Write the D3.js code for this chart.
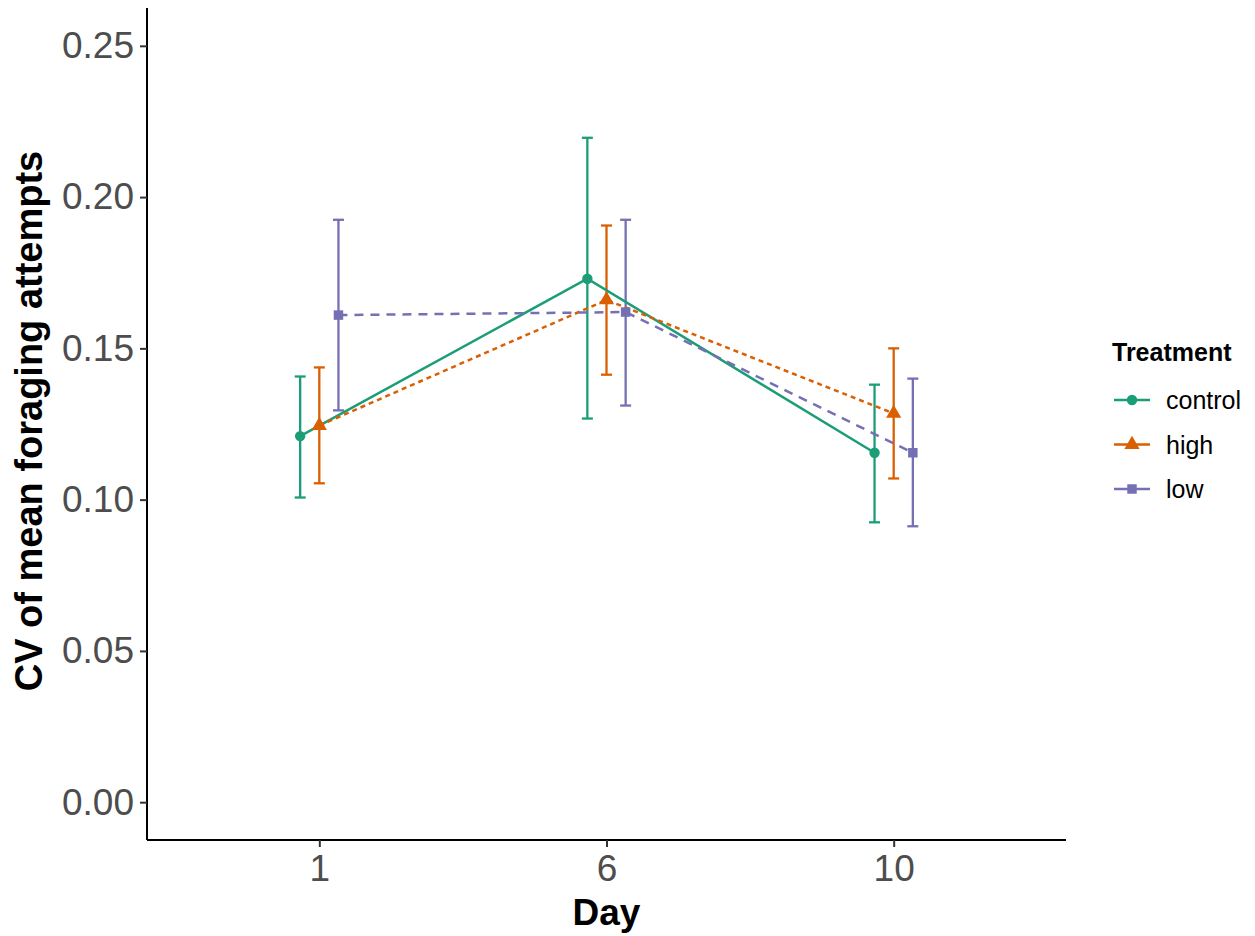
<!DOCTYPE html>
<html>
<head>
<meta charset="utf-8">
<script src="https://cdn.jsdelivr.net/npm/d3@7"></script>
<style>
  body { margin: 0; background: #fff; }
  svg { font-family: "Liberation Sans", Arial, sans-serif; }
</style>
</head>
<body>
<div id="chart"></div>
<script>
// data
const days = ["1", "6", "10"];
const treatments = ["control", "high", "low"];
const meanControl = [0.121, 0.173, 0.1155];
const meanHigh = [0.1245, 0.166, 0.1285];
const meanLow = [0.161, 0.162, 0.1155];
const lowerControl = [0.1007, 0.1268, 0.0925];
const lowerHigh = [0.1054, 0.1413, 0.107];
const lowerLow = [0.1295, 0.1311, 0.0912];
const upperControl = [0.1407, 0.2196, 0.138];
const upperHigh = [0.1437, 0.1906, 0.150];
const upperLow = [0.1925, 0.1925, 0.140];
const yTicks = [0, 0.05, 0.10, 0.15, 0.20, 0.25];

const series = [
  { name: "control", mean: meanControl, lo: lowerControl, hi: upperControl, color: "#1B9E77", dash: null, shape: d3.symbolCircle },
  { name: "high", mean: meanHigh, lo: lowerHigh, hi: upperHigh, color: "#D95F02", dash: "5,4", shape: d3.symbolTriangle },
  { name: "low", mean: meanLow, lo: lowerLow, hi: upperLow, color: "#7570B3", dash: "9,7", shape: d3.symbolSquare }
];

const width = 1255, height = 936;
const plot = { left: 147, right: 1066, top: 8, bottom: 840 };

const svg = d3.select("#chart").append("svg")
  .attr("width", width)
  .attr("height", height);

const x = d3.scalePoint()
  .domain(days)
  .range([plot.left, plot.right])
  .padding(0.6);

const y = d3.scaleLinear()
  .domain([-0.0125, 0.2625])
  .range([plot.bottom, plot.top]);

// dodge width 0.2 like position_dodge
const dodge = i => x.step() * 0.2 / 3 * (i - 1);

// axes
const yAxis = svg.append("g")
  .attr("transform", `translate(${plot.left},0)`)
  .call(d3.axisLeft(y).tickValues(yTicks).tickFormat(d3.format(".2f")).tickSizeOuter(0).tickSize(7).tickPadding(6));
const xAxis = svg.append("g")
  .attr("transform", `translate(0,${plot.bottom})`)
  .call(d3.axisBottom(x).tickSizeOuter(0).tickSize(7).tickPadding(8));

[yAxis, xAxis].forEach(g => {
  g.select(".domain").attr("stroke", "#000").attr("stroke-width", 2);
  g.selectAll(".tick line").attr("stroke", "#333").attr("stroke-width", 2);
  g.selectAll(".tick text")
    .attr("fill", "#4D4D4D")
    .style("font-size", "37px")
    .style("font-family", "'Liberation Sans', Arial, sans-serif");
});
// extend the domain lines to the corner
yAxis.select(".domain").attr("d", `M0,${plot.top}V${plot.bottom}`);
xAxis.select(".domain").attr("d", `M${plot.left},0H${plot.right}`);

// axis titles
svg.append("text")
  .attr("x", (plot.left + plot.right) / 2)
  .attr("y", 925)
  .attr("text-anchor", "middle")
  .style("font-size", "37px")
  .style("font-weight", "bold")
  .text("Day");

svg.append("text")
  .attr("transform", `translate(42,${(plot.top + plot.bottom) / 2 - 3}) rotate(-90)`)
  .attr("text-anchor", "middle")
  .style("font-size", "38px")
  .style("font-weight", "bold")
  .text("CV of mean foraging attempts");

// error bars
series.forEach((s, i) => {
  const g = svg.append("g").attr("class", "err-" + s.name);
  days.forEach((d, j) => {
    const cx = x(d) + dodge(i);
    g.append("line")
      .attr("x1", cx).attr("x2", cx)
      .attr("y1", y(s.lo[j])).attr("y2", y(s.hi[j]))
      .attr("stroke", s.color).attr("stroke-width", 2.3);
    [s.lo[j], s.hi[j]].forEach(v => {
      g.append("line")
        .attr("x1", cx - 5.5).attr("x2", cx + 5.5)
        .attr("y1", y(v)).attr("y2", y(v))
        .attr("stroke", s.color).attr("stroke-width", 2.3);
    });
  });
});

// lines
const line = d3.line();
series.forEach((s, i) => {
  const pts = days.map((d, j) => [x(d) + dodge(i), y(s.mean[j])]);
  svg.append("path")
    .attr("d", line(pts))
    .attr("fill", "none")
    .attr("stroke", s.color)
    .attr("stroke-width", 2.5)
    .attr("stroke-dasharray", s.dash);
});

// points
const symSize = { control: 85, high: 100, low: 90 };
series.forEach((s, i) => {
  svg.selectAll(null)
    .data(days)
    .join("path")
    .attr("transform", (d, j) => `translate(${x(d) + dodge(i)},${y(s.mean[j])})`)
    .attr("d", d3.symbol().type(s.shape).size(symSize[s.name]))
    .attr("fill", s.color);
});

// legend
const legend = svg.append("g").attr("transform", "translate(1112,0)");
legend.append("text")
  .attr("x", 0).attr("y", 361)
  .style("font-size", "25px")
  .style("font-weight", "bold")
  .text("Treatment");

series.forEach((s, i) => {
  const ly = 400 + i * 44.5;
  legend.append("line")
    .attr("x1", 2).attr("x2", 38)
    .attr("y1", ly).attr("y2", ly)
    .attr("stroke", s.color).attr("stroke-width", 2.5);
  legend.append("path")
    .attr("transform", `translate(20,${ly})`)
    .attr("d", d3.symbol().type(s.shape).size(symSize[s.name]))
    .attr("fill", s.color);
  legend.append("text")
    .attr("x", 54).attr("y", ly + 9)
    .style("font-size", "25px")
    .attr("fill", "#000")
    .text(s.name);
});
</script>
</body>
</html>
